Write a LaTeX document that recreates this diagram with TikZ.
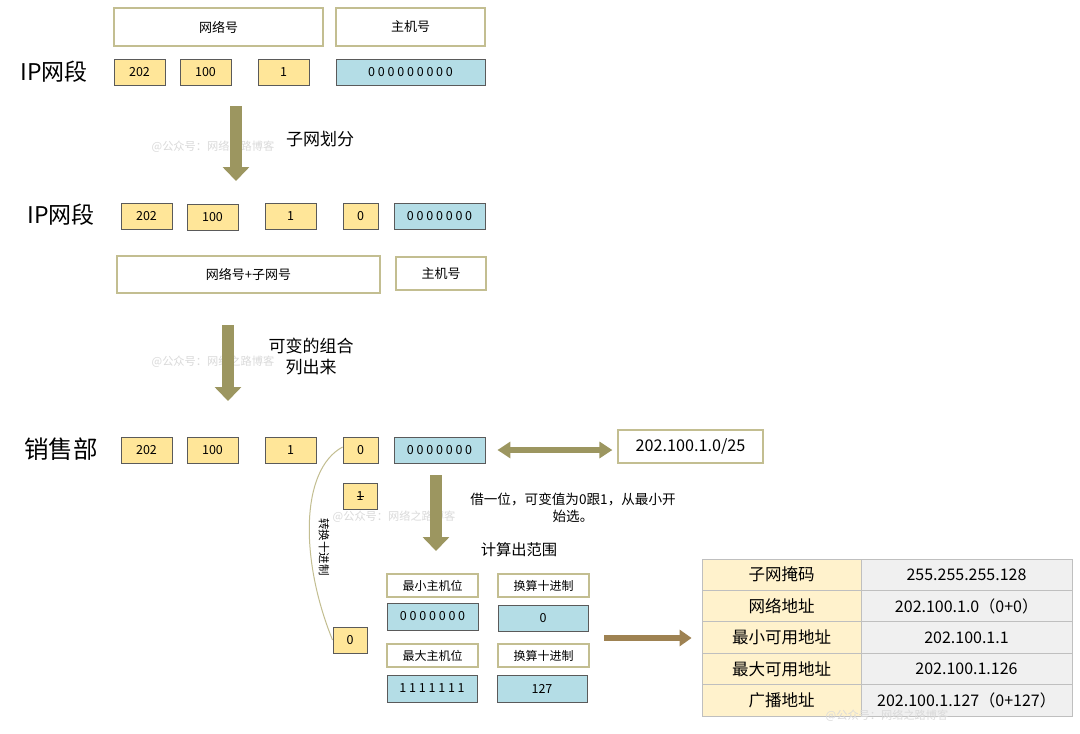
\documentclass[tikz,border=0pt]{standalone}
\usepackage{fontspec}
\setmainfont{Noto Sans CJK SC}
\usetikzlibrary{arrows.meta}
\definecolor{yel}{HTML}{FFE699}
\definecolor{blu}{HTML}{B4DDE6}
\definecolor{bord}{HTML}{5A5A5A}
\definecolor{tan}{HTML}{C3BE91}
\definecolor{olive}{HTML}{9C9660}
\definecolor{brown}{HTML}{9E8252}
\definecolor{tl}{HTML}{FFF2CC}
\definecolor{tr}{HTML}{F0F0F0}
\definecolor{tb}{HTML}{BFBFBF}
\definecolor{wm}{HTML}{DADADA}
\newcommand\bx[7]{\node[#2, minimum width={(#5-#3)*1pt}, minimum height={(#6-#4)*1pt}] (#1) at ({(#3+#5)/2},{(#4+#6)/2}) {#7};}
\tikzset{
  yb/.style={draw=bord, fill=yel, line width=0.9pt, inner sep=0pt, font=\fontsize{12.5}{14}\selectfont},
  bb/.style={draw=bord, fill=blu, line width=0.9pt, inner sep=0pt, font=\fontsize{12.5}{14}\selectfont},
  hb/.style={draw=tan, fill=white, line width=1.2pt, inner sep=0pt, font=\fontsize{13}{15}\selectfont},
  rh/.style={hb, font=\fontsize{12}{14}\selectfont},
  big/.style={font=\fontsize{23}{27}\selectfont, inner sep=0pt},
  lab/.style={font=\fontsize{17}{21}\selectfont, align=center, inner sep=0pt},
  wmk/.style={text=wm, font=\fontsize{11.2}{13}\selectfont, inner sep=0pt},
  tcl/.style={draw=tb, fill=tl, line width=0.8pt, inner sep=0pt, font=\fontsize{16.5}{18}\selectfont},
  tcr/.style={draw=tb, fill=tr, line width=0.8pt, inner sep=0pt, font=\fontsize{16}{18}\selectfont},
  downarrow/.style={draw=olive, line width=12pt, -{Triangle[width=26pt,length=14pt]}},
  dblarrow/.style={draw=olive, line width=6pt, {Triangle[width=16pt,length=13pt]}-{Triangle[width=16pt,length=13pt]}},
  rarrow/.style={draw=brown, line width=6pt, -{Triangle[width=16pt,length=12pt]}},
}
\begin{document}
\begin{tikzpicture}[x=1pt,y=-1pt]
\useasboundingbox[fill=white] (0,0) rectangle (1080,734);
% ---- row 1
\bx{h1}{hb}{114}{8}{323}{46}{网络号}
\bx{h2}{hb}{336}{8}{485}{46}{主机号}
\node[big] (ip1) at (54,72) {IP网段};
\bx{a1}{yb}{114}{59}{165}{85}{202}
\bx{a2}{yb}{180}{59}{231}{85}{100}
\bx{a3}{yb}{258}{59}{309}{85}{1}
\bx{a4}{bb}{336}{59}{485}{85}{0 0 0 0 0 0 0 0 0}
% arrow 1
\coordinate (d1s) at (236,106);
\coordinate (d1e) at (236,181);
\node[wmk] (w1) at (213,147) {@公众号：网络之路博客};
\draw[downarrow] (d1s) -- (d1e);
\node[lab] (l1) at (320,139) {子网划分};
% ---- row 2
\node[big] (ip2) at (61,215) {IP网段};
\bx{b1}{yb}{121}{203}{172}{229}{202}
\bx{b2}{yb}{187}{204}{238}{230}{100}
\bx{b3}{yb}{265}{203}{316}{229}{1}
\bx{b4}{yb}{343}{203}{378}{229}{0}
\bx{b5}{bb}{394}{203}{485}{229}{0 0 0 0 0 0 0}
\bx{h3}{hb}{117}{256}{380}{293}{网络号+子网号}
\bx{h4}{hb}{396}{257}{486}{290}{主机号}
% arrow 2
\coordinate (d2s) at (228,325);
\coordinate (d2e) at (228,401);
\node[wmk] (w2) at (213,362) {@公众号：网络之路博客};
\draw[downarrow] (d2s) -- (d2e);
\node[lab] (l2) at (311,357) {可变的组合\\列出来};
% ---- row 3
\node[big, font=\fontsize{24.5}{28}\selectfont] (xs) at (61,449) {销售部};
\bx{c1}{yb}{121}{437}{172}{463}{202}
\bx{c2}{yb}{187}{437}{238}{463}{100}
\bx{c3}{yb}{265}{437}{316}{463}{1}
\bx{c4}{yb}{343}{437}{378}{463}{0}
\bx{c5}{bb}{394}{437}{485}{463}{0 0 0 0 0 0 0}
\bx{cidr}{hb}{618}{430}{763}{463}{\fontsize{16.2}{19}\selectfont 202.100.1.0/25}
\draw[dblarrow] ([xshift=12pt]c5.east) -- ([xshift=-5pt]cidr.west |- c5.east);
\bx{one}{yb}{343}{483}{377}{509}{1}
\draw[line width=0.6pt] ([xshift=-3.5pt]one.center) -- ([xshift=3.5pt]one.center);
% arrow 3
\coordinate (d3s) at (436,475);
\coordinate (d3e) at (436,551);
\node[wmk] (w3) at (394,517) {@公众号：网络之路博客};
\draw[downarrow] (d3s) -- (d3e);
\node[font=\fontsize{13.6}{17}\selectfont, align=center, inner sep=0pt] (l3) at (573,508) {借一位，可变值为0跟1，从最小开\\始选。};
\node[font=\fontsize{15.3}{17}\selectfont, inner sep=0pt] (l4) at (519,550) {计算出范围};
% curve
\bx{z}{yb}{333}{627}{367}{653}{0}
\draw[tan, line width=1pt] ([yshift=3pt]c4.west) .. controls (300,470) and (300,560) .. (z.west);
\node[rotate=-90, font=\fontsize{11.5}{13}\selectfont, inner sep=0pt] (rt) at (324,547) {转换十进制};
% range
\bx{r1}{rh}{387}{574}{478}{597}{最小主机位}
\bx{r2}{rh}{498}{574}{589}{597}{换算十进制}
\bx{r3}{bb}{387}{603}{478}{630}{0 0 0 0 0 0 0}
\bx{r4}{bb}{498}{605}{588}{631}{0}
\bx{r5}{rh}{387}{644}{478}{667}{最大主机位}
\bx{r6}{rh}{498}{644}{589}{667}{换算十进制}
\bx{r7}{bb}{387}{675}{477}{702}{1 1 1 1 1 1 1}
\bx{r8}{bb}{497}{675}{587}{702}{127}
% table
\bx{t1l}{tcl}{702}{559}{861}{590.4}{子网掩码}
\bx{t1r}{tcr}{861}{559}{1072}{590.4}{255.255.255.128}
\bx{t2l}{tcl}{702}{590.4}{861}{621.8}{网络地址}
\bx{t2r}{tcr}{861}{590.4}{1072}{621.8}{202.100.1.0（0+0）}
\bx{t3l}{tcl}{702}{621.8}{861}{653.2}{最小可用地址}
\bx{t3r}{tcr}{861}{621.8}{1072}{653.2}{202.100.1.1}
\bx{t4l}{tcl}{702}{653.2}{861}{684.6}{最大可用地址}
\bx{t4r}{tcr}{861}{653.2}{1072}{684.6}{202.100.1.126}
\bx{t5l}{tcl}{702}{684.6}{861}{716}{广播地址}
\bx{t5r}{tcr}{861}{684.6}{1072}{716}{202.100.1.127（0+127）}
\coordinate (ras) at (604,638);
\draw[rarrow] (ras) -- ([xshift=-10pt]t3l.west |- ras);
\node[wmk] (w4) at (887,716) {@公众号：网络之路博客};
\end{tikzpicture}
\end{document}
